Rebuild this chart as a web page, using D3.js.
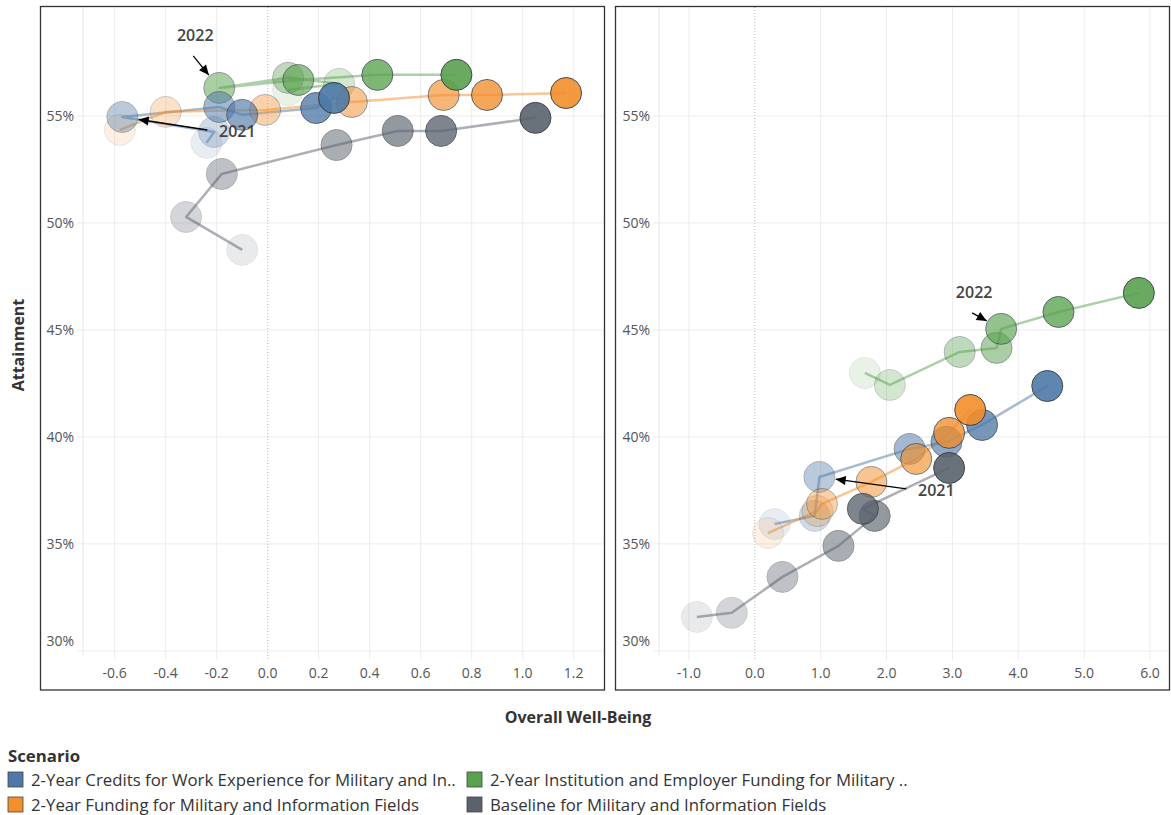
<!DOCTYPE html>
<html lang="en">
<head>
<meta charset="UTF-8">
<title>Attainment vs Overall Well-Being</title>
<script src="https://d3js.org/d3.v7.min.js"></script>
<style>
  body { margin: 0; background: #fff; }
  svg { font-family: "Open Sans", "Noto Sans", sans-serif; }
  .tick-label { fill: #555; font-size: 14px; }
  .axis-title { fill: #333; font-size: 16px; font-weight: bold; }
  .annot { fill: #444; font-size: 16px; font-weight: 600; }
  .legend text { fill: #333; font-size: 16.8px; }
</style>
</head>
<body>
<svg width="1171" height="815"></svg>
<script>
// ---- data: [overall well-being, attainment %], one point per year, oldest first ----
const leftCredits     = [[-0.24, 53.74], [-0.21, 54.25], [-0.57, 54.95], [-0.19, 55.42], [-0.10, 55.05], [0.19, 55.37], [0.26, 55.84]];
const leftInstitution = [[0.08, 56.21], [0.28, 56.50], [0.08, 56.78], [-0.19, 56.31], [0.12, 56.68], [0.43, 56.92], [0.74, 56.92]];
const leftFunding     = [[-0.58, 54.35], [-0.40, 55.19], [-0.01, 55.28], [0.33, 55.65], [0.69, 55.98], [0.86, 55.98], [1.17, 56.07]];
const leftBaseline    = [[-0.10, 48.74], [-0.32, 50.28], [-0.18, 52.29], [0.27, 53.64], [0.51, 54.30], [0.68, 54.30], [1.05, 54.91]];

const rightCredits     = [[0.30, 35.93], [0.91, 36.31], [0.98, 38.13], [2.35, 39.44], [2.91, 39.77], [3.45, 40.56], [4.44, 42.38]];
const rightInstitution = [[1.67, 42.99], [2.05, 42.43], [3.11, 43.97], [3.67, 44.16], [3.74, 45.05], [4.61, 45.84], [5.83, 46.73]];
const rightFunding     = [[0.20, 35.51], [0.95, 36.54], [1.02, 36.87], [1.77, 37.90], [2.45, 38.97], [2.95, 40.19], [3.27, 41.26]];
const rightBaseline    = [[-0.88, 31.59], [-0.35, 31.78], [0.42, 33.46], [1.27, 34.91], [1.82, 36.31], [1.64, 36.64], [2.95, 38.55]];

const seriesNames = ["baseline", "institution", "credits", "funding"];   // draw order for ties
const legendLabels = {
  credits: "2-Year Credits for Work Experience for Military and In..",
  institution: "2-Year Institution and Employer Funding for Military ..",
  funding: "2-Year Funding for Military and Information Fields",
  baseline: "Baseline for Military and Information Fields"
};
const legendOrder = ["credits", "institution", "funding", "baseline"];

const xTicksLeft = [-0.6, -0.4, -0.2, 0.0, 0.2, 0.4, 0.6, 0.8, 1.0, 1.2];
const xTicksRight = [-1, 0, 1, 2, 3, 4, 5, 6];
const yTicks = [30, 35, 40, 45, 50, 55];

// annotations: which point they mark
const annotations = [
  { panel: 0, series: "institution", idx: 3, text: "2022", dx: -24, dy: -52, side: "above" },
  { panel: 0, series: "credits", idx: 2, text: "2021", dx: 115, dy: 14, side: "right" },
  { panel: 1, series: "institution", idx: 4, text: "2022", dx: -27, dy: -36, side: "above" },
  { panel: 1, series: "credits", idx: 2, text: "2021", dx: 117, dy: 13, side: "right" }
];

// ---- styles / layout ----
const color = {
  credits: "#4e79a7",
  institution: "#59a14f",
  funding: "#f28e2b",
  baseline: "#59626d"
};
const R = 15.5;

const panels = [
  {
    data: { credits: leftCredits, institution: leftInstitution, funding: leftFunding, baseline: leftBaseline },
    box: [40.5, 6.5, 604.5, 690], pane: [83, 7, 604, 655],
    xDomain: [-0.7243, 1.3188], xTicks: xTicksLeft, fmt: d => d.toFixed(1), labelRight: 74
  },
  {
    data: { credits: rightCredits, institution: rightInstitution, funding: rightFunding, baseline: rightBaseline },
    box: [615.5, 6.5, 1169.5, 690], pane: [659, 7, 1169, 655],
    xDomain: [-1.4545, 6.2879], xTicks: xTicksRight, fmt: d => d.toFixed(1), labelRight: 650
  }
];

const svg = d3.select("svg");
const yScale = d3.scaleLinear().domain([29.81, 60.09]).range([655, 7]);
const opacity = d3.scaleLinear().domain([0, 6]).range([0.13, 0.9]);

svg.append("defs").append("marker")
  .attr("id", "arrow")
  .attr("viewBox", "0 -5 10 10")
  .attr("refX", 10).attr("refY", 0)
  .attr("markerUnits", "userSpaceOnUse")
  .attr("markerWidth", 11).attr("markerHeight", 10)
  .attr("orient", "auto")
  .append("path").attr("d", "M0,-4.5L10,0L0,4.5Z").attr("fill", "#000");

panels.forEach((p, pi) => {
  const [px0, py0, px1, py1] = p.pane;
  const x = d3.scaleLinear().domain(p.xDomain).range([px0, px1]);
  p.x = x;
  const g = svg.append("g");

  // grid
  g.selectAll(".hgrid").data(yTicks).enter().append("line")
    .attr("x1", px0 - 6).attr("x2", px1)
    .attr("y1", d => yScale(d)).attr("y2", d => yScale(d))
    .attr("stroke", "#ececec");
  g.selectAll(".vgrid").data(p.xTicks.filter(d => d !== 0)).enter().append("line")
    .attr("x1", d => x(d)).attr("x2", d => x(d))
    .attr("y1", py0).attr("y2", py1 + 5)
    .attr("stroke", "#ececec");
  g.append("line").attr("x1", px0).attr("x2", px0).attr("y1", py0).attr("y2", py1)
    .attr("stroke", "#e6e6e6");
  g.append("line").attr("x1", x(0)).attr("x2", x(0)).attr("y1", py0).attr("y2", py1 + 5)
    .attr("stroke", "#b8b8b8").attr("stroke-dasharray", "1,2");

  // axis labels
  g.selectAll(".ylab").data(yTicks).enter().append("text")
    .attr("class", "tick-label")
    .attr("x", p.labelRight)
    .attr("y", d => Math.min(yScale(d), py1 - 14))
    .attr("dy", "0.35em")
    .attr("text-anchor", "end")
    .text(d => d + "%");
  g.selectAll(".xlab").data(p.xTicks).enter().append("text")
    .attr("class", "tick-label")
    .attr("x", d => x(d))
    .attr("y", 678)
    .attr("text-anchor", "middle")
    .text(p.fmt);

  // lines
  const line = d3.line().x(d => x(d[0])).y(d => yScale(d[1]));
  seriesNames.forEach(s => {
    g.append("path")
      .datum(p.data[s])
      .attr("d", line)
      .attr("fill", "none")
      .attr("stroke", color[s])
      .attr("stroke-opacity", 0.5)
      .attr("stroke-width", 2.5)
      .attr("stroke-linejoin", "round");
  });

  // circles, older years first
  const pts = [];
  seriesNames.forEach((s, si) => p.data[s].forEach((d, i) => pts.push({ s, si, i, v: d })));
  pts.sort((a, b) => a.i - b.i || a.si - b.si);
  g.selectAll(".dot").data(pts).enter().append("circle")
    .attr("cx", d => x(d.v[0]))
    .attr("cy", d => yScale(d.v[1]))
    .attr("r", R)
    .attr("fill", d => color[d.s])
    .attr("stroke", "#2f3640")
    .attr("stroke-width", 1)
    .attr("opacity", d => opacity(d.i));

  // border
  svg.append("rect")
    .attr("x", p.box[0]).attr("y", p.box[1])
    .attr("width", p.box[2] - p.box[0]).attr("height", p.box[3] - p.box[1])
    .attr("fill", "none").attr("stroke", "#333").attr("stroke-width", 1.3);
});

// annotations
annotations.forEach(a => {
  const p = panels[a.panel];
  const v = p.data[a.series][a.idx];
  const cx = p.x(v[0]), cy = yScale(v[1]);
  const lx = cx + a.dx, ly = cy + a.dy;
  svg.append("text").attr("class", "annot")
    .attr("x", lx).attr("y", ly).attr("dy", "0.35em")
    .attr("text-anchor", "middle").text(a.text);
  const sx = a.side === "above" ? lx - 2 : lx - 30;
  const sy = a.side === "above" ? ly + 20 : ly - 1;
  const ddx = cx - sx, ddy = cy - sy, len = Math.hypot(ddx, ddy);
  const tx = cx - ddx / len * (R + 1), ty = cy - ddy / len * (R + 1);
  svg.append("line")
    .attr("x1", sx).attr("y1", sy).attr("x2", tx).attr("y2", ty)
    .attr("stroke", "#000").attr("stroke-width", 1.3)
    .attr("marker-end", "url(#arrow)");
});

// axis titles
svg.append("text").attr("class", "axis-title")
  .attr("x", 578).attr("y", 723).attr("text-anchor", "middle")
  .text("Overall Well-Being");
svg.append("text").attr("class", "axis-title")
  .attr("transform", "translate(24,345) rotate(-90)")
  .attr("text-anchor", "middle")
  .text("Attainment");

// legend
const legend = svg.append("g").attr("class", "legend");
legend.append("text").attr("x", 8).attr("y", 762)
  .attr("font-weight", "bold").attr("font-size", 14).text("Scenario");
const item = legend.selectAll(".item").data(legendOrder).enter().append("g")
  .attr("transform", (d, i) => `translate(${i % 2 ? 467 : 8},${772 + Math.floor(i / 2) * 25})`);
item.append("rect").attr("width", 15).attr("height", 15)
  .attr("fill", d => color[d]).attr("stroke", "#444").attr("stroke-width", 0.8);
item.append("text").attr("x", 23).attr("y", 13.5).text(d => legendLabels[d]);
</script>
</body>
</html>
